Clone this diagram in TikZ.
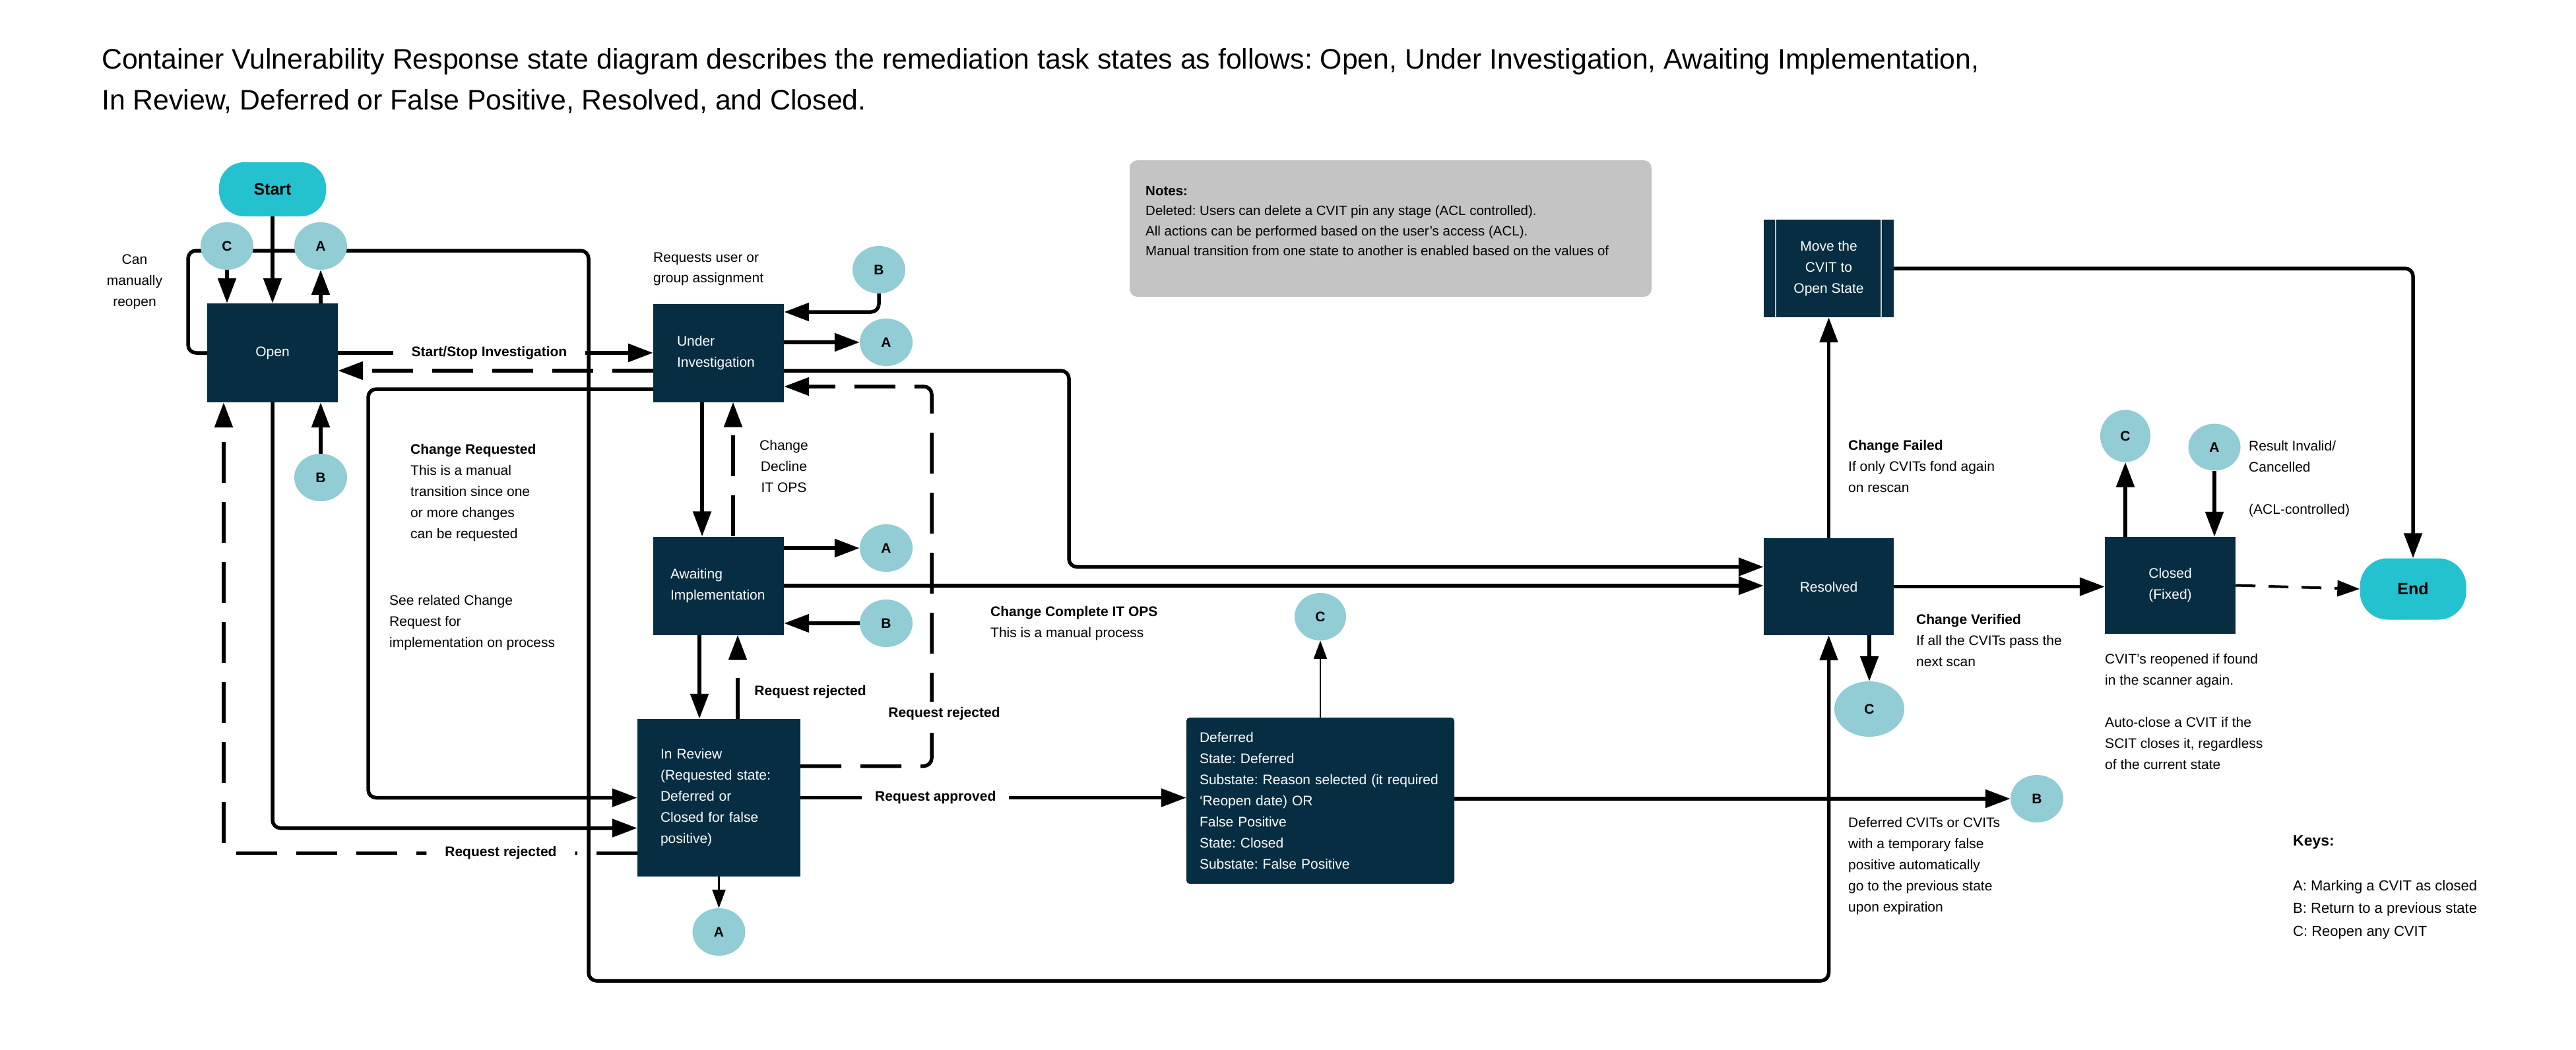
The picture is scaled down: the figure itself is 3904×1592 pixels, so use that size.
\documentclass[tikz,border=0pt]{standalone}
\usepackage{fontspec}
\setmainfont{Liberation Sans}
\usetikzlibrary{arrows.meta,shapes.geometric,backgrounds,calc}
\definecolor{cvnavy}{HTML}{062D42}
\definecolor{cvteal}{HTML}{92CCD4}
\definecolor{cvcyan}{HTML}{24C2CF}
\definecolor{cvgray}{HTML}{C4C4C4}
\newcommand{\cvfs}[2]{\fontsize{#1}{#2}\selectfont}
\frenchspacing
\begin{document}
\begin{tikzpicture}[x=1pt,y=-1pt,
 state/.style={fill=cvnavy,text=white,inner sep=0pt,font=\cvfs{21}{32}},
 circ/.style={ellipse,fill=cvteal,inner sep=0pt,minimum width=80pt,minimum height=72pt,font=\bfseries\cvfs{21}{24}},
 term/.style={fill=cvcyan,rounded corners=38pt,inner sep=0pt,font=\bfseries\cvfs{25}{30}},
 txt/.style={align=left,inner sep=0pt,font=\cvfs{21}{32}},
 blbl/.style={inner sep=0pt,font=\bfseries\cvfs{21}{26}},
 wlbl/.style={blbl,fill=white,inner xsep=28pt,inner ysep=4pt},
 ln/.style={line width=5.5pt,line join=round},
 arr/.style={ln,-{Triangle[length=38pt,width=27pt]}},
 thinarr/.style={line width=2.5pt,-{Triangle[length=28pt,width=20pt]}},
 dsh/.style={dash pattern=on 62pt off 29pt},
]
\useasboundingbox (0,0) rectangle (3904,1592);

% title
\node[anchor=west,align=left,inner sep=0pt,font=\cvfs{42.8}{62}] (title) at (154,123)
 {Container Vulnerability Response state diagram describes the remediation task states as follows: Open, Under Investigation, Awaiting Implementation,\\In Review, Deferred or False Positive, Resolved, and Closed.};

% left column
\node[term,minimum width=162pt,minimum height=82pt] (start) at (413,287) {Start};
\node[circ] (cl1) at (344,373) {C};
\node[circ] (al1) at (486,373) {A};
\node[state,minimum width=198pt,minimum height=150pt] (open) at (413,535) {Open};
\node[txt,align=center] (reopen) at (204,427) {Can\\manually\\reopen};
\node[circ] (bl1) at (486,724) {B};

% under investigation
\node[state,minimum width=198pt,minimum height=149pt,text width=126pt,align=left] (ui) at (1089,535) {Under\\Investigation};
\node[txt,anchor=west,font=\cvfs{21}{31}] (req) at (990,408) {Requests user or\\group assignment};
\node[circ] (bt) at (1332,409) {B};
\node[circ] (at) at (1343,519) {A};

% awaiting implementation
\node[state,minimum width=198pt,minimum height=149pt,text width=146pt,align=left] (ai) at (1089,888) {Awaiting\\Implementation};
\node[circ] (aa) at (1343,831) {A};
\node[circ] (ba) at (1343,945) {B};
\node[txt,align=center] (decl) at (1188,707) {Change\\Decline\\IT OPS};

% in review
\node[state,minimum width=247pt,minimum height=239pt,text width=177pt,align=left] (ir) at (1089.5,1209.5)
 {In Review\\(Requested state:\\Deferred or\\Closed for false\\positive)};
\node[circ] (air) at (1089.5,1413) {A};

\node[txt,anchor=west] (chreq) at (622,747) {\textbf{Change Requested}\\This is a manual\\transition since one\\or more changes\\can be requested};
\node[txt,anchor=west] (seerel) at (590,944) {See related Change\\Request for\\implementation on process};
\node[blbl] (rr1) at (1228,1049) {Request rejected};
\node[txt,anchor=west] (compl) at (1501,945) {\textbf{Change Complete IT OPS}\\This is a manual process};

% notes
\node[fill=cvgray,rounded corners=12pt,minimum width=791pt,minimum height=207pt,inner sep=0pt] (notesbox) at (2107.5,346.5) {};
\node[txt,anchor=west,font=\cvfs{20.5}{30.5}] (notes) at (1736,335)
 {\textbf{Notes:}\\Deleted: Users can delete a CVIT pin any stage (ACL controlled).\\All actions can be performed based on the user’s access (ACL).\\Manual transition from one state to another is enabled based on the values of};

% deferred
\node[state,rounded corners=5pt,minimum width=406pt,minimum height=252pt,text width=366pt,align=left] (deferred) at (2001,1214)
 {Deferred\\State: Deferred\\Substate: Reason selected (it required\\‘Reopen date) OR\\False Positive\\State: Closed\\Substate: False Positive};
\node[circ,minimum width=78pt] (cd) at (2001,935) {C};
\node[circ] (bd) at (3087,1211) {B};
\node[txt,anchor=west] (defcv) at (2801,1313) {Deferred CVITs or CVITs\\with a temporary false\\positive automatically\\go to the previous state\\upon expiration};

% resolved etc
\node[state,minimum width=197pt,minimum height=147pt] (resolved) at (2771.5,889.5) {Resolved};
\node[state,minimum width=197pt,minimum height=148pt,align=center] (move) at (2771.5,407) {Move the\\CVIT to\\Open State};
\draw[white!75!cvnavy,line width=1.5pt] ([xshift=18pt]move.north west) -- ([xshift=18pt]move.south west);
\draw[white!75!cvnavy,line width=1.5pt] ([xshift=-19pt]move.north east) -- ([xshift=-19pt]move.south east);
\node[txt,anchor=west] (failed) at (2801,707) {\textbf{Change Failed}\\If only CVITs fond again\\on rescan};
\node[txt,anchor=west] (verified) at (2904,971) {\textbf{Change Verified}\\If all the CVITs pass the\\next scan};
\node[circ,minimum width=106pt,minimum height=84pt] (cr) at (2833,1075) {C};

\node[state,minimum width=198pt,minimum height=147pt,align=center] (closed) at (3289,887.5) {Closed\\(Fixed)};
\node[circ,minimum width=76pt,minimum height=79pt] (cc) at (3221,661) {C};
\node[circ,minimum width=79pt,minimum height=71pt] (ac) at (3356,678) {A};
\node[txt,anchor=west] (result) at (3408,726) {Result Invalid/\\Cancelled\\[32pt](ACL-controlled)};
\node[term,minimum width=161pt,minimum height=93pt,rounded corners=42pt] (end) at (3657,893) {End};
\node[txt,anchor=west] (reop) at (3190,1079) {CVIT’s reopened if found\\in the scanner again.\\[32pt]Auto-close a CVIT if the\\SCIT closes it, regardless\\of the current state};

% keys
\node[anchor=west,inner sep=0pt,font=\bfseries\cvfs{23}{28}] (keys) at (3475,1277) {Keys:};
\node[txt,anchor=west,font=\cvfs{22}{34.5}] (keylist) at (3475,1379) {A: Marking a CVIT as closed\\B: Return to a previous state\\C: Reopen any CVIT};

% bend points
\coordinate (lpA) at (285,380);
\coordinate (lpB) at (892,1487);
\coordinate (k1) at (558,590);
\coordinate (k4) at (1620,562);
\coordinate (k5) at (1412,1161.5);
\coordinate (k6) at (339,1293.5);

\begin{scope}[on background layer]
\fill[white] (0,0) rectangle (3904,1592);
\draw[arr] (start) -- (open);
\draw[arr] (cl1) -- (cl1 |- open.north);
\draw[arr] (al1 |- open.north) -- (al1);
\draw[arr,rounded corners=12pt] (open.west) -| (lpA) -| (lpB) -| (resolved.south);
\draw[arr] (open.east) -- node[pos=0.48,wlbl] (ssl) {Start/Stop Investigation} (ui.west);
\draw[arr,dsh] ([yshift=-27pt]ui.west) -- ([yshift=-27pt]open.east);
\draw[arr,rounded corners=12pt] ([yshift=-55pt]ui.west) -- (k1) |- (ir.west);
\draw[arr,rounded corners=12pt] (open.south) |- ([yshift=-46pt]ir.west);
\draw[arr,dsh,rounded corners=12pt] ([yshift=-84pt]ir.west) -- node[pos=0.33,wlbl] (rr3) {Request rejected} (k6) -- (k6 |- open.south);
\draw[arr] (bl1) -- (bl1 |- open.south);
\draw[arr,rounded corners=12pt] (bt.south) |- ([yshift=62pt]ui.east);
\draw[arr] (ui.east |- at) -- (at);
\draw[arr,rounded corners=12pt] ([yshift=-27pt]ui.east) -- (k4) |- ([yshift=30pt]resolved.west);
\draw[arr,dsh,rounded corners=12pt] ([yshift=48pt]ir.east) -- (k5) |- ([yshift=-51pt]ui.east);
\node[blbl,fill=white,inner ysep=8pt] (rr2) at (1431,1082) {Request rejected};
\draw[arr] ([xshift=-25pt]ui.south) -- ([xshift=-25pt]ui.south |- ai.north);
\draw[arr,dsh] ([xshift=22pt]ui.south |- ai.north) -- ([xshift=22pt]ui.south);
\draw[arr] (ai.east |- aa) -- (aa);
\draw[arr] (ai.east) -- (ai.east -| resolved.west);
\draw[arr] (ba) -- (ba -| ai.east);
\draw[arr] ([xshift=-29pt]ai.south) -- ([xshift=-29pt]ai.south |- ir.north);
\draw[arr,dsh] ([xshift=29pt]ai.south |- ir.north) -- ([xshift=29pt]ai.south);
\draw[arr] (ir.east) -- node[pos=0.35,wlbl,inner xsep=20pt] (rap) {Request approved} (ir.east -| deferred.west);
\draw[thinarr] (ir.south -| air) -- (air);
\draw[thinarr] (cd |- deferred.north) -- (cd);
\draw[arr] (deferred.east |- bd) -- (bd);
\draw[arr] (resolved.north) -- (move.south);
\draw[arr,rounded corners=12pt] (move.east) -| (end.north);
\draw[arr] (resolved.east) -- (resolved.east -| closed.west);
\draw[line width=4pt,dash pattern=on 30pt off 20pt,-{Triangle[length=34pt,width=24pt]}] (closed.east) -- (end.west);
\draw[arr] (cc |- closed.north) -- (cc);
\draw[arr] (ac) -- (ac |- closed.north);
\draw[arr] (cr |- resolved.south) -- (cr);
\end{scope}
\end{tikzpicture}
\end{document}
